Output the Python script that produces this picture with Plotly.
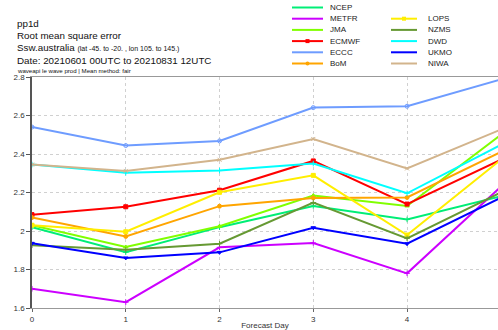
import plotly.graph_objects as go

days = [0, 1, 2, 3, 4, 5]

NCEP = [2.02, 1.89, 2.02, 2.13, 2.06, 2.18]
METFR = [1.70, 1.63, 1.915, 1.938, 1.78, 2.23]
JMA = [2.03, 1.917, 2.025, 2.184, 2.13, 2.50]
ECMWF = [2.085, 2.126, 2.212, 2.364, 2.14, 2.37]
ECCC = [2.54, 2.444, 2.468, 2.641, 2.648, 2.787]
BoM = [2.07, 1.972, 2.129, 2.172, 2.174, 2.41]
LOPS = [2.03, 1.996, 2.201, 2.289, 1.979, 2.37]
NZMS = [1.926, 1.902, 1.934, 2.148, 1.962, 2.20]
DWD = [2.345, 2.303, 2.314, 2.35, 2.196, 2.447]
UKMO = [1.936, 1.86, 1.889, 2.017, 1.934, 2.173]
NIWA = [2.345, 2.312, 2.37, 2.478, 2.325, 2.527]

series = [
    ("NCEP", NCEP, "#00ee76", "cross-thin"),
    ("METFR", METFR, "#cc00ff", "cross-thin"),
    ("JMA", JMA, "#80ff00", "triangle-up"),
    ("ECMWF", ECMWF, "#ff0000", "square"),
    ("ECCC", ECCC, "#6e9cff", "circle-open"),
    ("BoM", BoM, "#ffa500", "circle"),
    ("LOPS", LOPS, "#ffee00", "square"),
    ("NZMS", NZMS, "#669933", "cross-thin"),
    ("DWD", DWD, "#00ffff", "cross-thin"),
    ("UKMO", UKMO, "#0000ff", "triangle-down"),
    ("NIWA", NIWA, "#d2b48c", "x-thin"),
]

fig = go.Figure()
for name, vals, col, sym in series:
    fig.add_trace(go.Scatter(
        x=days, y=vals, mode="lines+markers", name=name,
        line=dict(color=col, width=2),
        marker=dict(color=col, size=4, symbol=sym, line=dict(color=col, width=1)),
        showlegend=False,
    ))

FONT = "Liberation Sans, Arial, sans-serif"
W, H = 498, 330
ML, MT, PW, PH = 32, 77, 466, 231


def px(x):
    return (x - ML) / PW


def py(y):
    return 1 - (y - MT) / PH


# manual legend (two columns, compact spacing)
legend_pos = {
    "NCEP": (0, 0), "METFR": (0, 1), "JMA": (0, 2), "ECMWF": (0, 3),
    "ECCC": (0, 4), "BoM": (0, 5), "LOPS": (1, 1), "NZMS": (1, 2),
    "DWD": (1, 3), "UKMO": (1, 4), "NIWA": (1, 5),
}
col_x = [(292, 323, 328), (391, 417, 426)]
row_y0 = 7.5
row_dy = 11.2
shapes = []
annotations = []
for name, vals, col, sym in series:
    c, r = legend_pos[name]
    x0, x1, xt = col_x[c]
    y = row_y0 + r * row_dy
    shapes.append(dict(type="line", xref="paper", yref="paper",
                       x0=px(x0), x1=px(x1), y0=py(y), y1=py(y),
                       line=dict(color=col, width=2)))
    xm = (x0 + x1) / 2
    if sym in ("square", "circle"):
        shapes.append(dict(type="rect" if sym == "square" else "circle",
                           xref="paper", yref="paper",
                           x0=px(xm - 2), x1=px(xm + 2), y0=py(y + 2), y1=py(y - 2),
                           fillcolor=col, line=dict(color=col, width=0)))
    annotations.append(dict(text=name, xref="paper", yref="paper",
                            x=px(xt), y=py(y), xanchor="left", yanchor="middle",
                            showarrow=False, font=dict(family=FONT, size=8, color="#222")))

header = [
    ("pp1d", 24, 9.8),
    ("Root mean square error", 36, 9.8),
    ("Ssw.australia <span style='font-size:7px'>(lat -45. to -20. , lon 105. to 145.)</span>", 48, 9.8),
    ("Date: 20210601 00UTC to 20210831 12UTC", 60.5, 9.8),
    ("waveapi le wave prod | Mean method: fair", 70, 6.1),
]
for txt, yy, fs in header:
    annotations.append(dict(text=txt, xref="paper", yref="paper",
                            x=px(15), y=py(yy),
                            xanchor="left", yanchor="middle", showarrow=False,
                            font=dict(family=FONT, size=fs, color="#111")))

fig.update_layout(
    width=W, height=H,
    margin=dict(l=ML, r=W - ML - PW, t=MT, b=H - MT - PH),
    paper_bgcolor="white", plot_bgcolor="white",
    showlegend=False,
    shapes=shapes, annotations=annotations,
    font=dict(family=FONT, size=8, color="#333"),
)
fig.update_xaxes(
    range=[0, 4.97], tickmode="linear", tick0=0, dtick=1,
    showgrid=True, gridcolor="#d0d0d0", griddash="dot", gridwidth=1,
    showline=True, linecolor="#999", linewidth=1, mirror=True,
    ticks="outside", ticklen=3, tickcolor="#666",
    zeroline=False,
    title=dict(text="Forecast Day", font=dict(family=FONT, size=8, color="#333"), standoff=0),
    tickfont=dict(family=FONT, size=8, color="#333"),
)
fig.update_yaxes(
    range=[1.6, 2.8], tickmode="linear", tick0=1.6, dtick=0.2,
    showgrid=True, gridcolor="#d0d0d0", griddash="dot", gridwidth=1,
    showline=True, linecolor="#555", linewidth=1.5,
    ticks="outside", ticklen=4, tickcolor="#555",
    zeroline=False,
    tickfont=dict(family=FONT, size=8, color="#333"),
)

fig.write_html(
    "out.html",
    config={"displayModeBar": False},
    post_script="document.body.style.margin='0';document.body.style.padding='0';",
)
